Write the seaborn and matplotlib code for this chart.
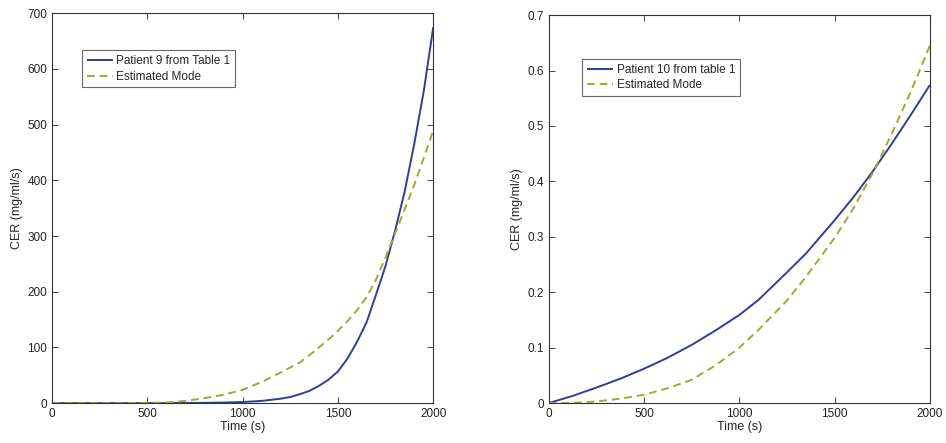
import matplotlib
matplotlib.use("Agg")
import matplotlib.pyplot as plt
import seaborn as sns
import pandas as pd

# ---- data ----
time_left = [0, 200, 400, 600, 700, 800, 900, 1000, 1100, 1200, 1250, 1300, 1350,
             1400, 1450, 1500, 1550, 1600, 1650, 1700, 1750, 1800, 1850, 1900,
             1950, 2000]
patient9 = [0, 0, 0, 0, 0.2, 0.5, 1, 2, 4, 8, 11, 16, 22,
            31, 42, 57, 80, 110, 145, 195, 247, 310, 380, 465,
            560, 675]
estimated9 = [0, 0, 0, 1, 4, 9, 15, 24, 38, 55, 64, 73, 86,
              100, 114, 130, 147, 167, 190, 222, 262, 305, 348, 392,
              440, 490]

time_right = [0, 125, 250, 375, 500, 625, 750, 875, 1000, 1100, 1250, 1350, 1500,
              1600, 1700, 1800, 1900, 2000]
patient10 = [0, 0.013, 0.028, 0.044, 0.062, 0.082, 0.105, 0.131, 0.159, 0.186,
             0.236, 0.270, 0.330, 0.372, 0.418, 0.468, 0.520, 0.574]
estimated10 = [0, 0.0005, 0.003, 0.008, 0.015, 0.027, 0.042, 0.068, 0.100, 0.132,
               0.185, 0.228, 0.298, 0.352, 0.415, 0.486, 0.562, 0.645]

label_left = ["Patient 9 from Table 1", "Estimated Mode"]
label_right = ["Patient 10 from table 1", "Estimated Mode"]

sns.set_style("ticks")
plt.rcParams["font.family"] = ["Liberation Sans", "DejaVu Sans"]
plt.rcParams["xtick.direction"] = "in"
plt.rcParams["ytick.direction"] = "in"

BLUE = "#2e3f9a"
GREEN = "#a4a82a"

fig = plt.figure(figsize=(9.46, 4.43), dpi=100)
ax1 = fig.add_axes([0.055, 0.090, 0.403, 0.880])
ax2 = fig.add_axes([0.580, 0.090, 0.403, 0.876])


def draw(ax, t, a, b, labels, ylim, yticks):
    df = pd.DataFrame({"t": t + t, "v": a + b,
                       "s": [labels[0]] * len(t) + [labels[1]] * len(t)})
    sns.lineplot(data=df, x="t", y="v", hue="s", style="s",
                 palette=[BLUE, GREEN], dashes=[(1, 0), (4, 2.5)],
                 linewidth=1.4, ax=ax, legend=True)
    ax.set_xlim(0, 2000)
    ax.set_ylim(*ylim)
    ax.set_xticks([0, 500, 1000, 1500, 2000])
    ax.set_yticks(yticks)
    ax.tick_params(labelsize=8.5, colors="#222222", length=4,
                   top=True, right=True, width=0.6)
    for sp in ax.spines.values():
        sp.set_visible(True)
        sp.set_linewidth(0.8)
        sp.set_color("#333333")
    ax.set_xlabel("Time (s)", fontsize=9, labelpad=1)
    ax.set_ylabel("CER (mg/ml/s)", fontsize=9, labelpad=3)
    return ax


draw(ax1, time_left, patient9, estimated9, label_left, (0, 700),
     [0, 100, 200, 300, 400, 500, 600, 700])
draw(ax2, time_right, patient10, estimated10, label_right, (0, 0.7),
     [0, 0.1, 0.2, 0.3, 0.4, 0.5, 0.6, 0.7])
ax2.set_yticklabels(["0", "0.1", "0.2", "0.3", "0.4", "0.5", "0.6", "0.7"])

for ax, loc in [(ax1, (0.063, 0.92)), (ax2, (0.073, 0.902))]:
    h, l = ax.get_legend_handles_labels()
    leg = ax.legend(h, l, loc="upper left", bbox_to_anchor=loc, fontsize=8.5,
                    frameon=True, fancybox=False, handlelength=2.2,
                    handletextpad=0.3, borderpad=0.4, labelspacing=0.3)
    leg.get_frame().set_edgecolor("#444444")
    leg.get_frame().set_linewidth(0.8)

fig.savefig("out.png", dpi=100)
